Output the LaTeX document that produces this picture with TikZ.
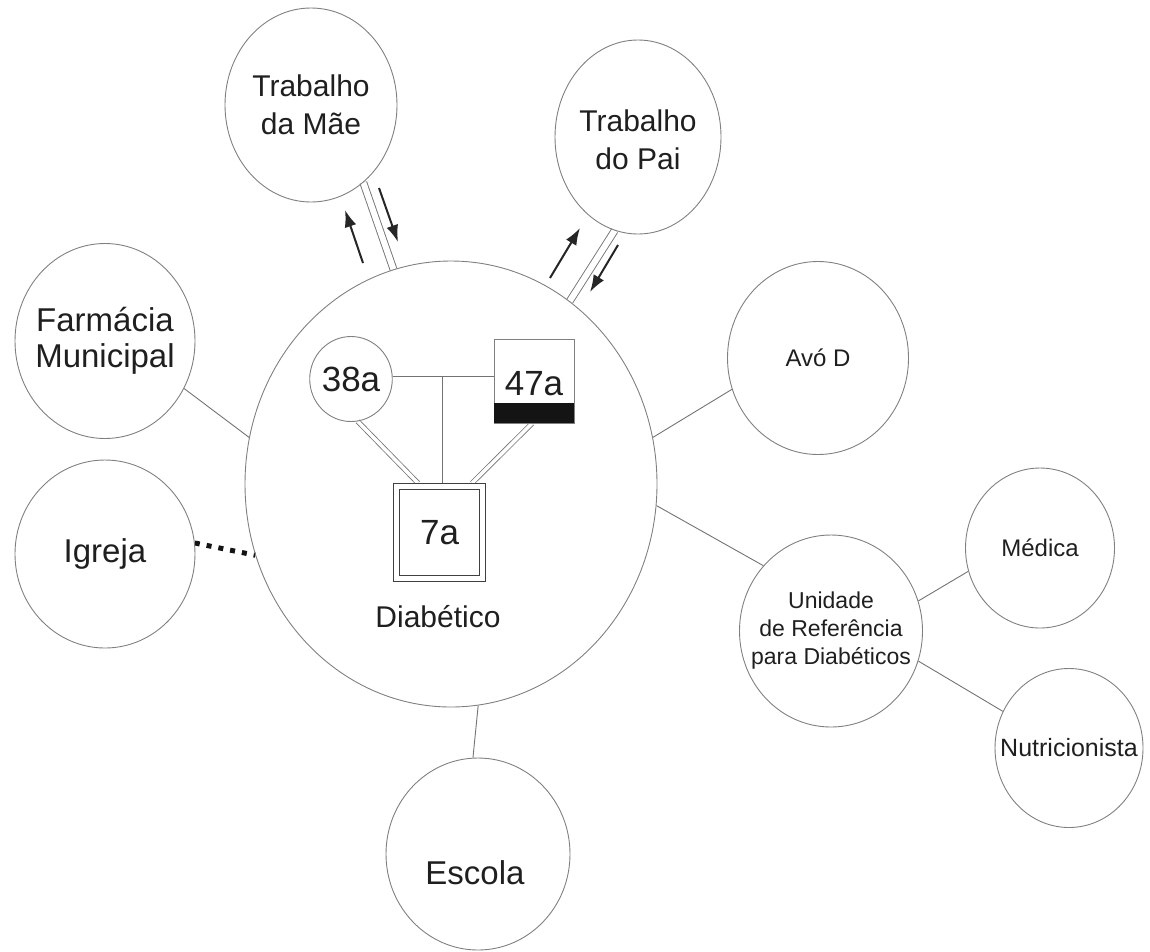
\documentclass[tikz,border=0pt]{standalone}
\usepackage{fontspec}
\setmainfont{Liberation Sans}
\usetikzlibrary{shapes.geometric,arrows.meta,calc}
\pgfdeclarelayer{bg}
\pgfsetlayers{bg,main}
\begin{document}
\begin{tikzpicture}[x=1pt,y=-1pt,
  ring/.style={ellipse, draw=black!50, line width=0.9pt, inner sep=0pt},
  intext/.style={align=center, text=black!88, inner sep=0pt},
  bigtext/.style={intext, font=\fontsize{30}{38}\selectfont},
  midtext/.style={intext, font=\fontsize{33}{36}\selectfont},
  smalltext/.style={intext, font=\fontsize{24}{28}\selectfont},
  link/.style={draw=black!55, line width=0.9pt},
  dlink/.style={draw=black!55, line width=0.9pt, double=white, double distance=6pt},
  glink/.style={draw=black!55, line width=0.8pt, double=white, double distance=3.5pt},
  flow/.style={-{Latex[length=17pt,width=12pt]}, line width=2pt, draw=black!85},
  gtext/.style={font=\fontsize{35}{40}\selectfont, text=black!88},
]
\useasboundingbox (0,0) rectangle (1150,951);

% main household circle
\node[ring, minimum width=412pt, minimum height=446pt] (main) at (451,484) {};

% outer circles
\node[ring, minimum width=172pt, minimum height=194pt, label={[bigtext]center:Trabalho\\da M\~ae}] (mae) at (311,105) {};
\node[ring, minimum width=166pt, minimum height=194pt, label={[bigtext, yshift=-3pt]center:Trabalho\\do Pai}] (pai) at (638,137) {};
\node[ring, minimum width=180pt, minimum height=195pt, label={[midtext]center:Farm\'acia\\Municipal}] (farm) at (105,341) {};
\node[ring, minimum width=180pt, minimum height=188pt, label={[midtext]center:Igreja}] (igreja) at (105,554) {};
\node[ring, minimum width=181pt, minimum height=193pt, label={[smalltext]center:Av\'o D}] (avo) at (818,358) {};
\node[ring, minimum width=183pt, minimum height=192pt, label={[intext, font=\fontsize{23}{28}\selectfont]center:Unidade\\de Refer\^encia\\para Diab\'eticos}] (unid) at (831,631) {};
\node[ring, minimum width=149pt, minimum height=160pt, label={[smalltext]center:M\'edica}] (medica) at (1040,548) {};
\node[ring, minimum width=148pt, minimum height=159pt, label={[intext, font=\fontsize{25}{28}\selectfont]center:Nutricionista}] (nutri) at (1069,748) {};
\node[ring, minimum width=184pt, minimum height=192pt, label={[midtext, xshift=-3pt, yshift=-19pt]center:Escola}] (escola) at (478,854) {};

% genogram inside the main circle
\node[ellipse, draw=black!50, line width=0.9pt, inner sep=0pt, minimum width=79pt, minimum height=85pt, gtext] (mother) at (351,379) {38a};
\node[rectangle, draw=black!50, line width=0.9pt, inner sep=0pt, minimum width=80pt, minimum height=84pt] (father) at (534,381) {};
\fill[black!92] (father.south west) rectangle ($(father.south east)+(0,-20)$);
\node[gtext] (fatherT) at (534,384) {47a};
\node[rectangle, draw=black!75, line width=1.2pt, double=white, double distance=5pt, inner sep=0pt, minimum width=85.6pt, minimum height=91.6pt, gtext] (child) at (439.5,532.5) {7a};
\node[font=\fontsize{30}{36}\selectfont, text=black!88] (diab) at (438,617) {Diab\'etico};
\coordinate (marr) at (442,376);

\begin{pgfonlayer}{bg}
  % connectors to the outer circles
  \draw[dlink] (mae.-56) -- (main.105.3);
  \draw[dlink] (pai.-104) -- (main.57);
  \draw[link] (farm.-31.6) -- (main.167.5);
  \draw[line width=5pt, dash pattern=on 5pt off 7pt, draw=black!92] (igreja.7.7) -- (main.-160);
  \draw[link] (main.13.8) -- (avo.200.4);
  \draw[link] (main.-6.4) -- (unid.136.7);
  \draw[link] (unid.19.4) -- (medica.198.9);
  \draw[link] (unid.-19.8) -- (nutri.151);
  \draw[link] (main.-83.5) -- (escola.93.6);
  % genogram connectors
  \draw[link] (mother.east |- marr) -- (father.west |- marr);
  \draw[link] (marr) -- (child.north -| marr);
  \draw[glink] (mother.-81) -- ($(child.north)+(-21.5,-3)$);
  \draw[glink] ($(father.south)+(-2,0)$) -- ($(child.north)+(32.5,-3)$);
\end{pgfonlayer}

% flow arrows
\draw[flow] (363,263) -- (345,210);
\draw[flow] (379,188) -- (398,242);
\draw[flow] (550,278) -- (580,228);
\draw[flow] (618,245) -- (590,292);
\end{tikzpicture}
\end{document}
